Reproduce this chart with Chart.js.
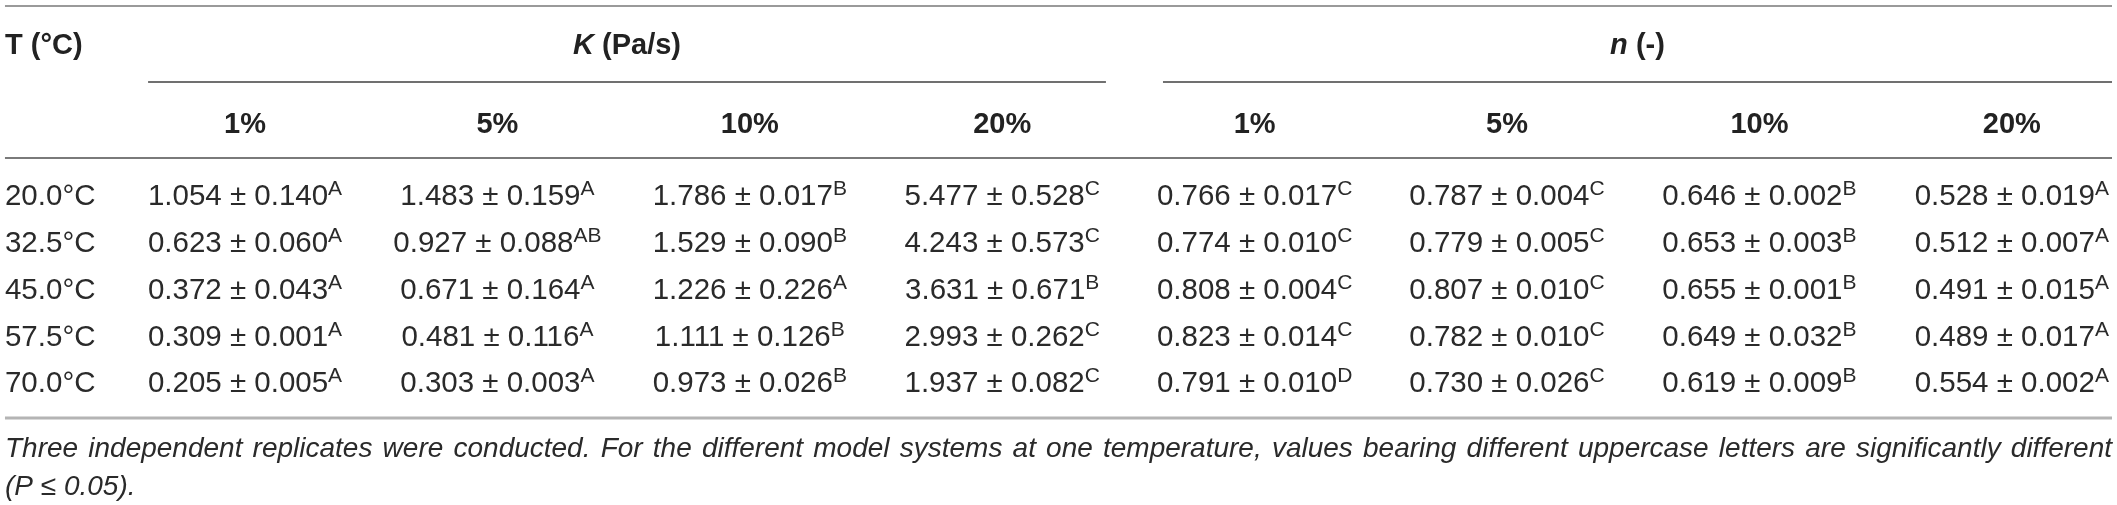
<!DOCTYPE html>
<html>
<head>
<meta charset="utf-8">
<script src="https://cdn.jsdelivr.net/npm/chart.js@4.4.1/dist/chart.umd.min.js"></script>
<style>
  html, body { margin: 0; padding: 0; background: #fff; }
  #wrap { width: 2117px; height: 505px; }
</style>
</head>
<body>
<div id="wrap"><canvas id="tbl" width="2117" height="505"></canvas></div>
<script>
// Table content
const temps = ['20.0°C', '32.5°C', '45.0°C', '57.5°C', '70.0°C'];
const concentrations = ['1%', '5%', '10%', '20%'];
const firstHeader = 'T (°C)';
const groupHeaders = [['K', ' (Pa/s)'], ['n', ' (-)']];

// K (Pa/s) - rows are temperatures, columns are concentrations
const kMean = [
  [1.054, 1.483, 1.786, 5.477],
  [0.623, 0.927, 1.529, 4.243],
  [0.372, 0.671, 1.226, 3.631],
  [0.309, 0.481, 1.111, 2.993],
  [0.205, 0.303, 0.973, 1.937]
];
const kSd = [
  [0.140, 0.159, 0.017, 0.528],
  [0.060, 0.088, 0.090, 0.573],
  [0.043, 0.164, 0.226, 0.671],
  [0.001, 0.116, 0.126, 0.262],
  [0.005, 0.003, 0.026, 0.082]
];
const kLetters = [
  ['A', 'A', 'B', 'C'],
  ['A', 'AB', 'B', 'C'],
  ['A', 'A', 'A', 'B'],
  ['A', 'A', 'B', 'C'],
  ['A', 'A', 'B', 'C']
];

// n (-)
const nMean = [
  [0.766, 0.787, 0.646, 0.528],
  [0.774, 0.779, 0.653, 0.512],
  [0.808, 0.807, 0.655, 0.491],
  [0.823, 0.782, 0.649, 0.489],
  [0.791, 0.730, 0.619, 0.554]
];
const nSd = [
  [0.017, 0.004, 0.002, 0.019],
  [0.010, 0.005, 0.003, 0.007],
  [0.004, 0.010, 0.001, 0.015],
  [0.014, 0.010, 0.032, 0.017],
  [0.010, 0.026, 0.009, 0.002]
];
const nLetters = [
  ['C', 'C', 'B', 'A'],
  ['C', 'C', 'B', 'A'],
  ['C', 'C', 'B', 'A'],
  ['C', 'C', 'B', 'A'],
  ['D', 'C', 'B', 'A']
];

const footnote = 'Three independent replicates were conducted. For the different model systems at one temperature, values bearing different uppercase letters are significantly different';
const footnoteEnd = '(P \u2264 0.05).';

// Layout, in scale units (x: one unit per data column, y: one unit per data row)
const W = 2117, H = 505;
const colStep = 252.4, col0 = 245, rowStep = 46.75, row0 = 195;
const L = {
  left: -0.951, right: 7.397,
  kFrom: -0.384, kTo: 3.411, nFrom: 3.637, nTo: 7.397,
  lineTop: -4.04, headTop: -3.25, lineGroup: -2.42, headSub: -1.54, lineSub: -0.79,
  lineBottom: 4.77, note1: 5.39, note2: 6.2
};

const FONT = '"Liberation Sans", Arial, Helvetica, sans-serif';
const BODY = 29.5, SUP = 21, HEAD = 29, NOTE = 28;

// one dataset per column of the table
const datasets = [];
datasets.push({
  label: 'T', align: 'left',
  data: temps.map((t, i) => ({ x: L.left, y: i })),
  cells: temps.map(t => [t, ''])
});
[[kMean, kSd, kLetters], [nMean, nSd, nLetters]].forEach(function(set, g) {
  concentrations.forEach(function(c, j) {
    datasets.push({
      label: (g ? 'n ' : 'K ') + c, align: 'center',
      data: temps.map((t, i) => ({ x: g * 4 + j, y: i })),
      cells: temps.map((t, i) => [set[0][i][j].toFixed(3) + ' \u00b1 ' + set[1][i][j].toFixed(3), set[2][i][j]])
    });
  });
});

function hline(ctx, xs, ys, x1, x2, y, color, w) {
  const py = Math.round(ys.getPixelForValue(y));
  ctx.strokeStyle = color;
  ctx.lineWidth = w;
  ctx.beginPath();
  ctx.moveTo(xs.getPixelForValue(x1), py);
  ctx.lineTo(xs.getPixelForValue(x2), py);
  ctx.stroke();
}

function drawRuns(ctx, runs, cx, baseline) {
  // runs: [text, font]; centred on cx
  let total = 0;
  runs.forEach(r => { ctx.font = r[1]; total += ctx.measureText(r[0]).width; });
  let x = cx - total / 2;
  runs.forEach(r => { ctx.font = r[1]; ctx.fillText(r[0], x, baseline); x += ctx.measureText(r[0]).width; });
}

const tablePlugin = {
  id: 'tableText',
  afterDatasetsDraw(chart) {
    const ctx = chart.ctx, xs = chart.scales.x, ys = chart.scales.y;
    ctx.save();
    ctx.textBaseline = 'alphabetic';

    // rules
    hline(ctx, xs, ys, L.left, L.right, L.lineTop, '#9a9a9a', 2);
    hline(ctx, xs, ys, L.kFrom, L.kTo, L.lineGroup, '#707070', 2);
    hline(ctx, xs, ys, L.nFrom, L.nTo, L.lineGroup, '#707070', 2);
    hline(ctx, xs, ys, L.left, L.right, L.lineSub, '#7a7a7a', 2);
    hline(ctx, xs, ys, L.left, L.right, L.lineBottom, '#b4b4b4', 3);

    // headers
    const bold = 'bold ' + HEAD + 'px ' + FONT, boldIt = 'italic bold ' + HEAD + 'px ' + FONT;
    const hOff = HEAD * 0.36;
    ctx.fillStyle = '#222';
    ctx.textAlign = 'left';
    ctx.font = bold;
    ctx.fillText(firstHeader, xs.getPixelForValue(L.left), ys.getPixelForValue(L.headTop) + hOff);
    drawRuns(ctx, [[groupHeaders[0][0], boldIt], [groupHeaders[0][1], bold]],
      xs.getPixelForValue((L.kFrom + L.kTo) / 2), ys.getPixelForValue(L.headTop) + hOff);
    drawRuns(ctx, [[groupHeaders[1][0], boldIt], [groupHeaders[1][1], bold]],
      xs.getPixelForValue((L.nFrom + L.nTo) / 2), ys.getPixelForValue(L.headTop) + hOff);
    [0, 1].forEach(function(g) {
      concentrations.forEach(function(c, j) {
        drawRuns(ctx, [[c, bold]], xs.getPixelForValue(g * 4 + j), ys.getPixelForValue(L.headSub) + hOff);
      });
    });

    // body cells, positioned at each dataset point
    const body = BODY + 'px ' + FONT, sup = SUP + 'px ' + FONT;
    const bOff = BODY * 0.355;
    ctx.fillStyle = '#2a2a2a';
    chart.data.datasets.forEach(function(ds, d) {
      chart.getDatasetMeta(d).data.forEach(function(pt, i) {
        const main = ds.cells[i][0], letter = ds.cells[i][1];
        ctx.font = body;
        const mw = ctx.measureText(main).width;
        ctx.font = sup;
        const sw = ctx.measureText(letter).width;
        const x0 = ds.align === 'left' ? pt.x : pt.x - (mw + sw) / 2;
        const base = pt.y + bOff;
        ctx.textAlign = 'left';
        ctx.font = body;
        ctx.fillText(main, x0, base);
        if (letter) {
          ctx.font = sup;
          ctx.fillText(letter, x0 + mw, base - 10);
        }
      });
    });

    // footnote: first line justified, second line left
    const it = 'italic ' + NOTE + 'px ' + FONT;
    ctx.font = it;
    ctx.fillStyle = '#2a2a2a';
    const words = footnote.split(' ');
    const xl = xs.getPixelForValue(L.left), xr = xs.getPixelForValue(L.right);
    const widths = words.map(w => ctx.measureText(w).width);
    const gap = (xr - xl - widths.reduce((a, b) => a + b, 0)) / (words.length - 1);
    let x = xl;
    const y1 = ys.getPixelForValue(L.note1) + NOTE * 0.36;
    words.forEach(function(w, k) { ctx.fillText(w, x, y1); x += widths[k] + gap; });
    ctx.fillText(footnoteEnd, xl, ys.getPixelForValue(L.note2) + NOTE * 0.36);
    ctx.restore();
  }
};

new Chart(document.getElementById('tbl').getContext('2d'), {
  type: 'scatter',
  data: { datasets: datasets },
  options: {
    responsive: false,
    animation: false,
    devicePixelRatio: 1,
    layout: { padding: 0 },
    elements: { point: { radius: 0, hoverRadius: 0 } },
    scales: {
      x: { type: 'linear', display: false, min: -col0 / colStep, max: (W - col0) / colStep },
      y: { type: 'linear', display: false, reverse: true, min: -row0 / rowStep, max: (H - row0) / rowStep }
    },
    plugins: { legend: { display: false }, tooltip: { enabled: false } }
  },
  plugins: [tablePlugin]
});
</script>
</body>
</html>
